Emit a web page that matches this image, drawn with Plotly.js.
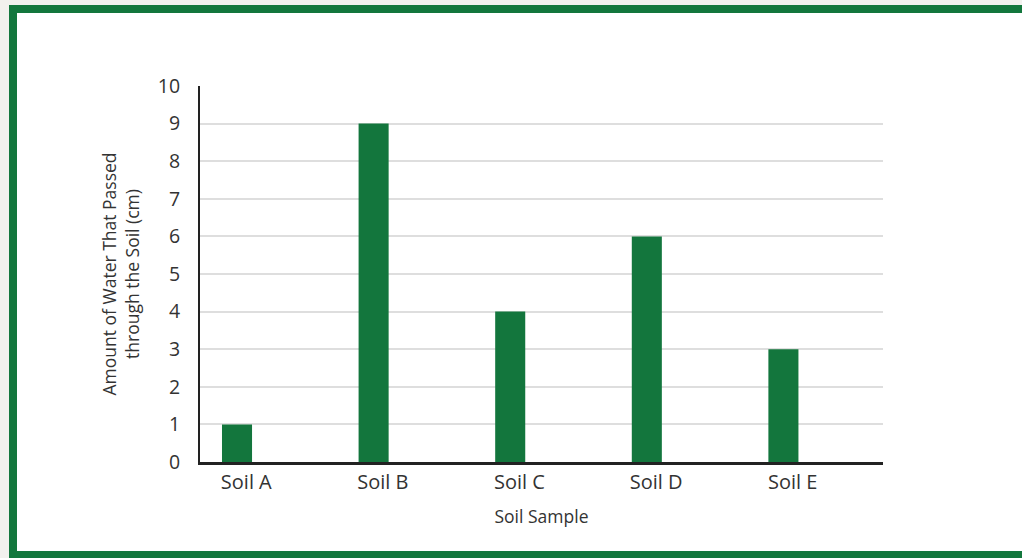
<!DOCTYPE html>
<html>
<head>
<meta charset="utf-8">
<script src="https://cdn.plot.ly/plotly-3.0.1.min.js"></script>
<style>
  html, body { margin:0; padding:0; width:1022px; height:558px; overflow:hidden; background:#f2f1ee; }
  #frame { position:absolute; left:9px; top:5px; width:1030px; height:554px; border:8px solid #13773d; background:#ffffff; box-sizing:border-box; }
  #chart { position:absolute; left:0; top:0; width:1022px; height:558px; }
</style>
</head>
<body>
<div id="frame"></div>
<div id="chart"></div>
<script>
const categories = ["Soil A", "Soil B", "Soil C", "Soil D", "Soil E"];
const waterPassed = [1, 9, 4, 6, 3];
const yTicks = [0, 1, 2, 3, 4, 5, 6, 7, 8, 9, 10];

const barColor = "#13763d";
const fontFam = "'Open Sans', 'Noto Sans', sans-serif";

const trace = {
  type: "bar",
  x: categories,
  y: waterPassed,
  width: 0.22,
  offset: -0.339,
  marker: { color: barColor, line: { width: 0 } },
  hoverinfo: "x+y"
};

const layout = {
  width: 1022,
  height: 558,
  margin: { l: 200, r: 139, t: 86, b: 96, pad: 0 },
  paper_bgcolor: "rgba(0,0,0,0)",
  plot_bgcolor: "#ffffff",
  showlegend: false,
  font: { family: fontFam, color: "#333333" },
  xaxis: {
    type: "category",
    range: [-0.5, 4.5],
    showline: true,
    linecolor: "#222222",
    linewidth: 2.5,
    ticks: "",
    showgrid: false,
    zeroline: false,
    tickfont: { size: 20, color: "#333333", family: fontFam },
    ticklabelshift: -22,
    ticklabelstandoff: 0,
    title: { text: "Soil Sample", font: { size: 17.5, color: "#333333", family: fontFam }, standoff: 17 }
  },
  yaxis: {
    range: [0, 10],
    tickmode: "array",
    tickvals: yTicks,
    ticktext: yTicks.map(String),
    showline: true,
    linecolor: "#222222",
    linewidth: 2,
    ticks: "",
    showgrid: true,
    gridcolor: "#dedede",
    gridwidth: 2,
    zeroline: false,
    tickfont: { size: 19.5, color: "#333333", family: fontFam },
    ticklabelstandoff: 14,
    title: { text: "Amount of Water That Passed<br>through the Soil (cm)", font: { size: 17.5, color: "#333333", family: fontFam }, standoff: 14 }
  }
};

Plotly.newPlot("chart", [trace], layout, { displayModeBar: false, staticPlot: true });
</script>
</body>
</html>
